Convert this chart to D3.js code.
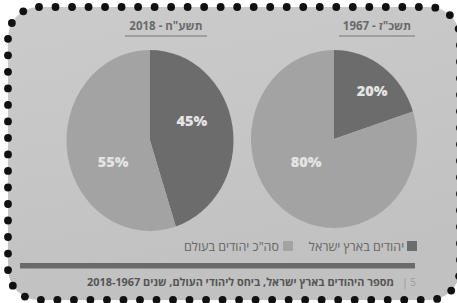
<!DOCTYPE html>
<html><head><meta charset="utf-8">
<script src="https://cdn.jsdelivr.net/npm/d3@7"></script>
<style>html,body{margin:0;padding:0;background:#fff;}svg{display:block;}</style>
</head><body>
<svg id="chart" width="457" height="303"></svg>
<script>
// ---- data ----
const years = ["1967", "2018"];
const yearTitles = ["תשכ\"ז - 1967", "תשע\"ח - 2018"];
const categories = ["יהודים בארץ ישראל", "סה\"כ יהודים בעולם"];
const israelShare = [20, 45];
const restShare = [80, 55];
const caption = "מספר היהודים בארץ ישראל, ביחס ליהודי העולם, שנים 2018-1967";
const pageNumber = "5";

// ---- layout ----
const W = 457, H = 303;
const font = "'Open Sans','Liberation Sans','DejaVu Sans',sans-serif";
const colors = ["#6c6c6c", "#a3a3a3"];
const pies = [
  {cx: 334, cy: 139, rx: 83, ry: 89, titleX: 377, titleW: 76, labels: [[38, 62], [231, 36]]},
  {cx: 150, cy: 140.5, rx: 83.5, ry: 90.5, titleX: 166, titleW: 82, labels: [[64.5, 46.5], [240, 42.5]]}
];

const svg = d3.select("#chart");
const defs = svg.append("defs");
const grad = defs.append("linearGradient").attr("id", "bgG").attr("x1", 0).attr("y1", 0).attr("x2", 0.3).attr("y2", 1);
grad.append("stop").attr("offset", "0%").attr("stop-color", "#cbcbcb");
grad.append("stop").attr("offset", "100%").attr("stop-color", "#c1c1c1");

// frame
const fx = 8, fy = 7, fw = 452, fh = 293, fr = 31;
const framePath = `M${fx+fr},${fy} H${fx+fw-fr} A${fr},${fr} 0 0 1 ${fx+fw},${fy+fr} V${fy+fh-fr} A${fr},${fr} 0 0 1 ${fx+fw-fr},${fy+fh} H${fx+fr} A${fr},${fr} 0 0 1 ${fx},${fy+fh-fr} V${fy+fr} A${fr},${fr} 0 0 1 ${fx+fr},${fy} Z`;
const frame = svg.append("path").attr("d", framePath).attr("fill", "url(#bgG)");

// charts
const pie = d3.pie().sort(null).value(d => d.v);
years.forEach((yr, i) => {
  const p = pies[i];
  const data = [{k: categories[0], v: israelShare[i]}, {k: categories[1], v: restShare[i]}];
  const arc = d3.arc().innerRadius(0).outerRadius(p.rx);
  const g = svg.append("g").attr("transform", `translate(${p.cx},${p.cy}) scale(1,${p.ry / p.rx})`);
  const arcs = pie(data);
  g.selectAll("path").data(arcs).join("path")
    .attr("d", arc).attr("fill", (d, j) => colors[j]);
  arcs.forEach((d, j) => {
    const a = p.labels[j][0] * Math.PI / 180, r = p.labels[j][1];
    svg.append("text")
      .attr("x", p.cx + r * Math.sin(a)).attr("y", p.cy - r * Math.cos(a))
      .attr("text-anchor", "middle").attr("dominant-baseline", "central")
      .attr("font-family", font).attr("font-weight", 800).attr("font-size", 14.5)
      .attr("fill", "#e4e4e4")
      .text(d3.format(".0f")(d.data.v) + "%");
  });
  svg.append("text").attr("x", p.titleX).attr("y", 30)
    .attr("text-anchor", "middle").attr("direction", "rtl")
    .attr("font-family", font).attr("font-weight", 700).attr("font-size", 11.5)
    .attr("fill", "#6a6a6a").text(yearTitles[i]);
  svg.append("line").attr("x1", p.titleX - p.titleW / 2).attr("x2", p.titleX + p.titleW / 2)
    .attr("y1", 36).attr("y2", 36).attr("stroke", "#777").attr("stroke-width", 1);
});

// legend
const legend = [{x: 407, tx: 356.5}, {x: 283, tx: 231.5}];
categories.forEach((c, j) => {
  svg.append("rect").attr("x", legend[j].x).attr("y", 241).attr("width", 10).attr("height", 10)
    .attr("fill", colors[j]);
  svg.append("text").attr("x", legend[j].tx).attr("y", 250.5)
    .attr("text-anchor", "middle").attr("direction", "rtl")
    .attr("font-family", font).attr("font-size", 12.5).attr("fill", "#666").text(c);
});

// bar
svg.append("rect").attr("x", 20).attr("y", 263).attr("width", 395).attr("height", 5.5).attr("fill", "#6a6a6a");

// caption (font size fitted so its width spans ~309px)
const cap = svg.append("text").attr("x", 240.5).attr("y", 286)
  .attr("text-anchor", "middle").attr("direction", "rtl")
  .attr("font-family", font).attr("font-weight", 700).attr("font-size", 11.5)
  .attr("fill", "#555").text(caption);
const natural = cap.node().getComputedTextLength();
cap.attr("font-size", Math.min(12.5, 11.5 * 307 / natural));
svg.append("text").attr("x", 405).attr("y", 286).attr("text-anchor", "middle")
  .attr("font-family", font).attr("font-size", 11).attr("fill", "#9a9a9a").text("|");
svg.append("text").attr("x", 413).attr("y", 286).attr("text-anchor", "middle")
  .attr("font-family", font).attr("font-size", 10).attr("fill", "#9a9a9a").text(pageNumber);

// dotted border
const len = frame.node().getTotalLength();
const n = Math.round(len / 16.6);
const dots = d3.range(n).map(k => frame.node().getPointAtLength(k * len / n));
svg.append("g").selectAll("circle").data(dots).join("circle")
  .attr("cx", d => d.x).attr("cy", d => d.y).attr("r", 3.9).attr("fill", "#111");
</script>
</body></html>
